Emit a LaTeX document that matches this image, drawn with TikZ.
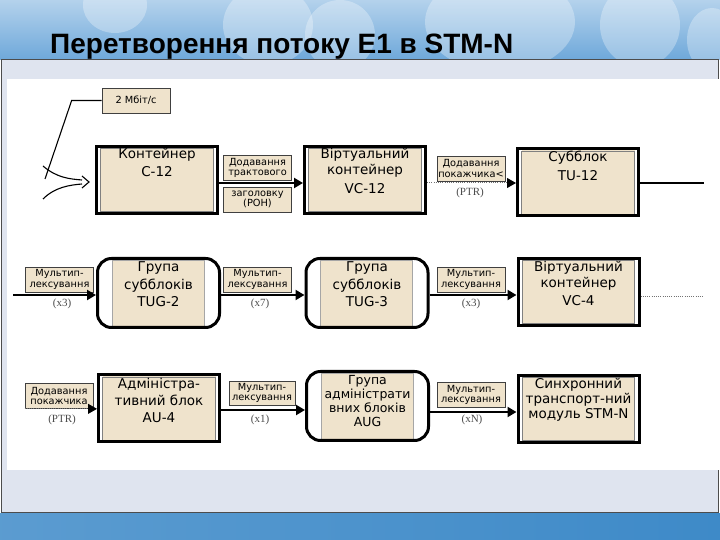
\documentclass[tikz,border=0pt]{standalone}
\usepackage{fontspec}
\setmainfont{DejaVu Sans}
\newfontfamily\titlefont{Liberation Sans}
\newfontfamily\notefont{Liberation Serif}
\usetikzlibrary{arrows.meta,positioning}
\definecolor{beige}{HTML}{EFE3CC}
\definecolor{frameblue}{HTML}{DFE4EF}
\definecolor{skyblue}{HTML}{B4D2EC}
\definecolor{midblue}{HTML}{6EA8DA}
\definecolor{deepblue}{HTML}{3E8AC8}

\begin{document}
\begin{tikzpicture}[x=1pt, y=1pt,
    bigbox/.style={draw=black, line width=3pt, fill=beige, minimum width=121pt, minimum height=67pt, inner sep=0pt,
      path picture={
        \fill[white] (path picture bounding box.south west) rectangle ([xshift=4pt]path picture bounding box.north west);
        \fill[white] (path picture bounding box.south east) rectangle ([xshift=-4pt]path picture bounding box.north east);
        \draw[gray, line width=0.7pt] ([shift={(4.3pt,2pt)}]path picture bounding box.south west) rectangle ([shift={(-4.3pt,-2pt)}]path picture bounding box.north east);
      }},
    groupbox/.style={draw=black, line width=3pt, rounded corners=14pt, fill=white, minimum width=122pt, minimum height=69pt, inner sep=0pt,
      path picture={
        \draw[sharp corners, gray!70, line width=0.6pt, fill=beige] ([shift={(14.5pt,1.5pt)}]path picture bounding box.south west) rectangle ([shift={(-15.5pt,-1.5pt)}]path picture bounding box.north east);
      }},
    boxtext/.style={anchor=north, align=center, inner sep=0pt},
    tag/.style={draw=black!75, line width=0.7pt, fill=beige, minimum width=68pt, minimum height=25pt, inner sep=1pt, align=center, font=\fontsize{9.8}{10.8}\selectfont},
    note/.style={text=black!70, font=\notefont\fontsize{11}{12}\selectfont, inner sep=0pt},
    arr/.style={line width=2.2pt, -{Triangle[length=9pt,width=10pt]}},
    ptr/.style={black!55, line width=1pt, dash pattern=on 1pt off 1.2pt, -{Triangle[length=9pt,width=10pt,color=black]}}
]
\useasboundingbox (0,0) rectangle (720,540);
\shade[top color=skyblue, bottom color=midblue] (0,480) rectangle (720,540);
\begin{scope}
  \clip (0,480) rectangle (720,540);
  \foreach \x/\y/\rx/\ry in {115/535/32/28, 268/515/45/40, 340/505/35/35, 500/518/75/50, 640/515/40/42, 712/500/25/32}
    \fill[white, opacity=0.3] (\x,\y) ellipse [x radius=\rx, y radius=\ry];
\end{scope}
\shade[left color=deepblue!85!white, right color=deepblue] (0,0) rectangle (720,26);
\draw[black!70, fill=frameblue, line width=1pt] (1,27) rectangle (718,480);
\fill[white] (7,70) rectangle (720,461);
\node[anchor=base west, inner sep=0pt, font=\titlefont\bfseries\fontsize{28}{30}\selectfont] (title) at (50,486) {Перетворення потоку E1 в STM-N};

\node[tag] (rate) at (136,439.5) {2 Мбіт/с};
\node[bigbox] (c12) at (157,360) {};
\node[boxtext, below=3.5pt of c12.north, font=\fontsize{13.5}{18}\selectfont] (c12t) {Контейнер\\C-12};
\node[tag] (poh1) at (257.5,372) {Додавання\\трактового};
\node[tag] (poh2) at (257.5,340.5) {заголовку\\(POH)};
\node[bigbox] (vc12) at (365,360) {};
\node[boxtext, below=3.5pt of vc12.north, font=\fontsize{13.5}{16}\selectfont] (vc12t) {Віртуальний\\контейнер\\[3pt]VC-12};
\node[tag] (ptr1) at (471,371.5) {Додавання\\покажчика<};
\node[note] (ptr1n) at (470,347) {(PTR)};
\node[bigbox] (tu12) at (578,357.5) {};
\node[boxtext, below=3.5pt of tu12.north, font=\fontsize{13.5}{19}\selectfont] (tu12t) {Субблок\\TU-12};

\coordinate (ratept) at (45,361);
\coordinate (src1) at (43,374);
\coordinate (src2) at (43,341);
\coordinate (tip) at ([shift={(-6pt,-2pt)}]c12.west);
\draw[line width=1.1pt] (rate.west) -- ++(-30,0) -- (ratept);
\draw[line width=1.1pt] (src1) .. controls +(14,-12) and +(-12,1) .. ([shift={(-7pt,2pt)}]tip);
\draw[line width=1.1pt] (src2) .. controls +(12,12) and +(-12,-1) .. ([shift={(-7pt,-2pt)}]tip);
\draw[line width=1.1pt] ([shift={(-7pt,6pt)}]tip) -- (tip) -- ([shift={(-7pt,-6pt)}]tip);
\draw[arr] ([yshift=-3pt]c12.east) -- ([yshift=-3pt]c12.east -| vc12.west);
\draw[ptr] ([yshift=-3pt]vc12.east) -- ([yshift=-3pt]vc12.east -| tu12.west);
\coordinate (out1) at (704,357);
\draw[line width=2.2pt] (out1 -| tu12.east) -- (out1);

\coordinate (in2) at (13,245);
\node[tag] (mux1) at (59.5,260.5) {Мультип-\\лексування};
\node[note] (mux1n) at (62,236) {(x3)};
\node[groupbox] (tug2) at (158.5,247) {};
\node[boxtext, below=4.5pt of tug2.north, font=\fontsize{13.5}{17.5}\selectfont] (tug2t) {Група\\субблоків\\TUG-2};
\node[tag] (mux2) at (257.5,260.5) {Мультип-\\лексування};
\node[note] (mux2n) at (260,236) {(x7)};
\node[groupbox] (tug3) at (367,247) {};
\node[boxtext, below=4.5pt of tug3.north, font=\fontsize{13.5}{17.5}\selectfont] (tug3t) {Група\\субблоків\\TUG-3};
\node[tag] (mux3) at (471,260.5) {Мультип-\\лексування};
\node[note] (mux3n) at (471,236) {(x3)};
\node[bigbox] (vc4) at (578.5,248) {};
\node[boxtext, below=4.5pt of vc4.north, font=\fontsize{13.5}{15.5}\selectfont] (vc4t) {Віртуальний\\контейнер\\[3pt]VC-4};
\draw[arr] (in2) -- (in2 -| tug2.west);
\draw[arr] ([yshift=-2pt]tug2.east) -- ([yshift=-2pt]tug2.east -| tug3.west);
\draw[arr] ([yshift=-2pt]tug3.east) -- ([yshift=-2pt]tug3.east -| vc4.west);
\coordinate (out2) at (704,243);
\draw[black!55, line width=1pt, dash pattern=on 1pt off 1.2pt] (out2 -| vc4.east) -- (out2);

\node[tag] (ptr2) at (59,144) {Додавання\\покажчика};
\node[note] (ptr2n) at (62,120) {(PTR)};
\node[bigbox] (au4) at (159,131.5) {};
\node[boxtext, below=4.5pt of au4.north, font=\fontsize{13.5}{17}\selectfont] (au4t) {Адміністра-\\тивний блок\\AU-4};
\node[tag, minimum width=66pt, minimum height=24pt] (mux4) at (262,147) {Мультип-\\лексування};
\node[note] (mux4n) at (260,120) {(x1)};
\node[groupbox] (aug) at (367.5,134) {};
\node[boxtext, below=5.5pt of aug.north, font=\fontsize{12.5}{14}\selectfont] (augt) {Група\\адміністрати\\вних блоків\\AUG};
\node[tag] (mux5) at (471,145) {Мультип-\\лексування};
\node[note] (mux5n) at (472,120) {(xN)};
\node[bigbox] (stm) at (578.5,131) {};
\node[boxtext, below=4.5pt of stm.north, font=\fontsize{13.5}{15}\selectfont] (stmt) {Синхронний\\транспорт-ний\\модуль STM-N};
\draw[ptr] (ptr2.south west) -- (ptr2.south west -| au4.west);
\draw[arr] ([yshift=-1.5pt]au4.east) -- ([yshift=-1.5pt]au4.east -| aug.west);
\draw[arr] ([yshift=-6pt]aug.east) -- ([yshift=-6pt]aug.east -| stm.west);
\end{tikzpicture}
\end{document}
